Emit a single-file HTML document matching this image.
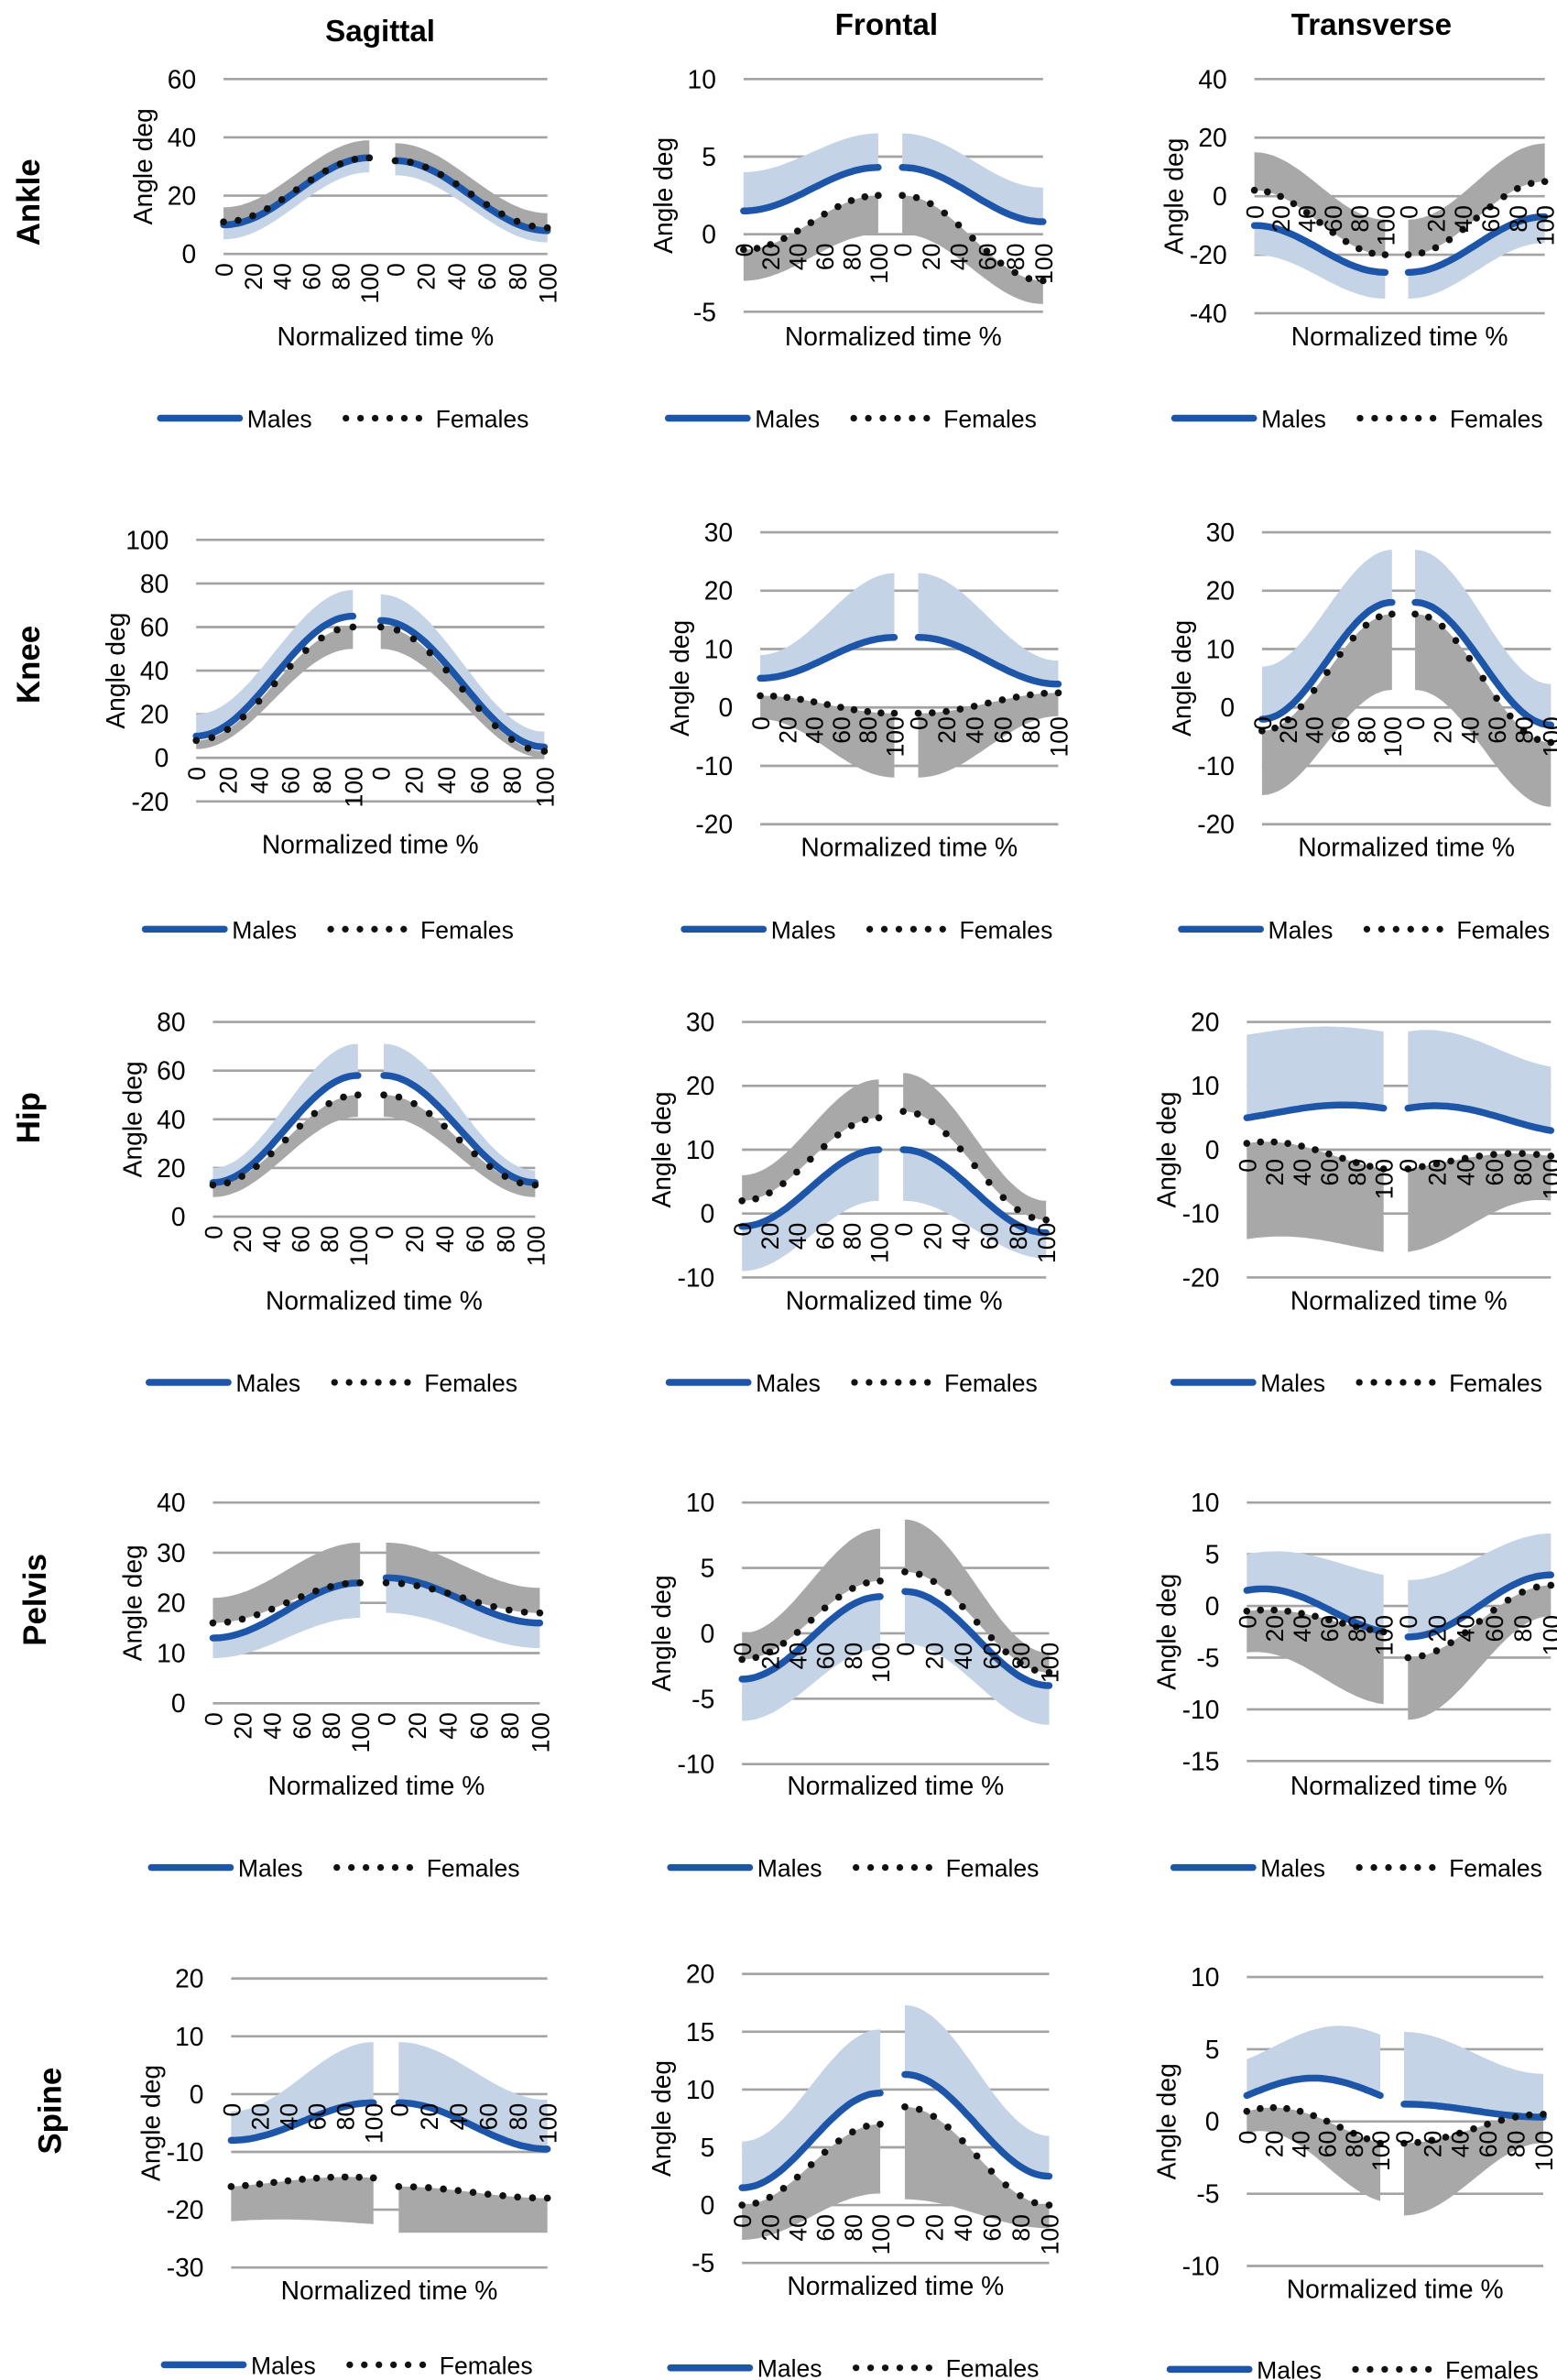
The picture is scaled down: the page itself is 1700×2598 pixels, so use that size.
<!DOCTYPE html>
<html><head><meta charset="utf-8"><style>
html,body{margin:0;padding:0;background:#fff;}
svg{display:block;}
text{font-family:"Liberation Sans",sans-serif;fill:#000;}
</style></head><body>
<svg id="s" width="1700" height="2598" viewBox="0 0 1024 1565" xmlns="http://www.w3.org/2000/svg">
<rect width="1024" height="1565" fill="#fff"/>
<text x="250" y="27" text-anchor="middle" font-size="20" font-weight="bold">Sagittal</text>
<text x="583" y="23" text-anchor="middle" font-size="20" font-weight="bold">Frontal</text>
<text x="902" y="23" text-anchor="middle" font-size="20" font-weight="bold">Transverse</text>
<text transform="translate(26,133) rotate(-90)" text-anchor="middle" font-size="21" font-weight="bold">Ankle</text>
<text transform="translate(26,437) rotate(-90)" text-anchor="middle" font-size="21" font-weight="bold">Knee</text>
<text transform="translate(26,735) rotate(-90)" text-anchor="middle" font-size="21" font-weight="bold">Hip</text>
<text transform="translate(30,1052) rotate(-90)" text-anchor="middle" font-size="21" font-weight="bold">Pelvis</text>
<text transform="translate(40,1388) rotate(-90)" text-anchor="middle" font-size="21" font-weight="bold">Spine</text>
<g id="g"></g>
</svg>
<script>
var P=[
{L:147,R:360,max:60,min:0,st:20,yT:52,yB:167,xl:221,lg:275,h:[[[10,33,5,5,-1,0],[11,33,5,6,1,0]],[[32,8,5,4,-1,0],[32,9,6,5,1,0]]]},
{L:489,R:686,max:10,min:-5,st:5,yT:52,yB:205,xl:221,lg:275,h:[[[1.5,4.3,2.5,2.2,1,0],[-1,2.5,2,2.5,-1,0]],[[4.3,0.8,2.2,2.2,1,0],[2.5,-3,2.5,1.5,-1,0]]]},
{L:825,R:1016,max:40,min:-40,st:20,yT:52,yB:206,xl:221,lg:275,h:[[[-10,-26,10,9,-1,0],[2,-20,13,12,1,0]],[[-26,-7,9,9,-1,0],[-20,5,12,13,1,0]]]},
{L:129,R:358,max:100,min:-20,st:20,yT:355,yB:527,xl:555,lg:611,h:[[[10,65,10,12,1,0],[8,60,4,10,-1,0]],[[63,5,12,7,1,0],[60,3,10,3,-1,0]]]},
{L:500,R:696,max:30,min:-20,st:10,yT:350,yB:542,xl:557,lg:611,h:[[[5,12,4,11,1,0],[2,-1,4,11,-1,0]],[[12,4,11,4,1,0],[-1,2.5,11,4,-1,0]]]},
{L:830,R:1020,max:30,min:-20,st:10,yT:350,yB:542,xl:557,lg:611,h:[[[-2,18,9,9,1,0],[-4,16,11,13,-1,0]],[[18,-3,9,7,1,0],[16,-6,13,11,-1,0]]]},
{L:140,R:352,max:80,min:0,st:20,yT:672,yB:800,xl:855,lg:909,h:[[[14,58,6,13,1,0],[13,50,5,9,-1,0]],[[58,14,13,5,1,0],[50,13,9,5,-1,0]]]},
{L:488,R:688,max:30,min:-10,st:10,yT:672,yB:840,xl:855,lg:909,h:[[[-2,10,7,8,-1,0],[2,15,4,6,1,0]],[[10,-3,8,4,-1,0],[16,-1,6,3,1,0]]]},
{L:820,R:1020,max:20,min:-20,st:10,yT:672,yB:840,xl:855,lg:909,h:[[[5,6.5,13,12,1,1],[1,-3,15,13,-1,1]],[[6.5,3,12,10,1,1.2],[-3,-1,13,7,-1,1]]]},
{L:140,R:355,max:40,min:0,st:10,yT:988,yB:1120,xl:1174,lg:1228,h:[[[13,24,4,7,-1,0],[16,24,5,8,1,0]],[[25,16,7,5,-1,0],[24,18,8,5,1,0]]]},
{L:488,R:690,max:10,min:-10,st:5,yT:988,yB:1160,xl:1174,lg:1228,h:[[[-3.5,2.8,3.2,4,-1,0],[-2,4,2,4,1,0]],[[3.2,-4,4,3,-1,0],[4.7,-3,4,1.5,1,0]]]},
{L:820,R:1020,max:10,min:-15,st:5,yT:988,yB:1158,xl:1174,lg:1228,h:[[[1.5,-2.5,3.5,5.5,1,0.8],[-0.5,-2.5,4,7,-1,0.5]],[[-3,3,5.5,4,1,0],[-5,2,6,3,-1,0]]]},
{L:152,R:360,max:20,min:-30,st:10,yT:1301,yB:1491,xl:1506,lg:1555,h:[[[-8,-1.5,5,10.5,1,0],[-16,-14.5,6,8,-1,0.5]],[[-1.5,-9.5,10.5,8.5,1,0],[-16,-18,8,6,-1,0]]]},
{L:488,R:690,max:20,min:-5,st:5,yT:1298,yB:1488,xl:1503,lg:1557,h:[[[1.5,9.7,4,5.5,1,0],[0,7,3,6,-1,0]],[[11.3,2.5,6,3.5,1,0],[8.5,0,8,2,-1,0]]]},
{L:820,R:1015,max:10,min:-10,st:5,yT:1300,yB:1490,xl:1505,lg:1558,h:[[[1.8,1.8,2.5,4.2,1,1.2],[0.7,-1.5,1.5,4,-1,0.8]],[[1.2,0.3,5,3,1,0],[-1.5,0.5,5,2,-1,0]]]}
];
var out=[];
function sm(t){return (1-Math.cos(Math.PI*t))/2;}
P.forEach(function(p){
 var W=p.R-p.L;
 function Y(v){return p.yT+(p.max-v)/(p.max-p.min)*(p.yB-p.yT);}
 for(var v=p.max;v>=p.min-1e-9;v-=p.st){
  var y=Y(v);
  out.push('<line x1="'+p.L+'" x2="'+p.R+'" y1="'+y+'" y2="'+y+'" stroke="#a3a3a3" stroke-width="1.6"/>');
  out.push('<text x="'+(p.L-18)+'" y="'+(y+6)+'" text-anchor="end" font-size="17">'+v+'</text>');
 }
 var halves=[[p.L,p.L+0.45*W],[p.L+0.53*W,p.R]];
 var layers={gray:[],blue:[],ml:[],fd:[]};
 p.h.forEach(function(hh,i){
  var x0=halves[i][0],x1=halves[i][1];
  [1,0].forEach(function(k){
   var s=hh[k];var top=[],bot=[],N=40;
   for(var j=0;j<=N;j++){var t=j/N,e=sm(t);
    var m=s[0]+(s[1]-s[0])*e+s[5]*Math.sin(Math.PI*t);
    var w=s[2]+(s[3]-s[2])*e;
    var x=x0+(x1-x0)*t;
    top.push([x,Y(m)]);bot.push([x,Y(m+s[4]*w)]);}
   var d='M'+top.map(function(q){return q[0].toFixed(1)+','+q[1].toFixed(1)}).join('L')+'L'+bot.reverse().map(function(q){return q[0].toFixed(1)+','+q[1].toFixed(1)}).join('L')+'Z';
   (k==0?layers.blue:layers.gray).push('<path d="'+d+'" fill="'+(k==0?'#c5d3e6':'#a8a8a8')+'"/>');
   if(k==0){layers.ml.push('<path d="M'+top.map(function(q){return q[0].toFixed(1)+','+q[1].toFixed(1)}).join('L')+'" fill="none" stroke="#1d55a8" stroke-width="4.5" stroke-linecap="round"/>');}
   else{for(var j=0;j<=10;j++){var t=j/10,e=sm(t);var m=s[0]+(s[1]-s[0])*e+s[5]*Math.sin(Math.PI*t);
     layers.fd.push('<circle cx="'+(x0+(x1-x0)*t).toFixed(1)+'" cy="'+Y(m).toFixed(1)+'" r="2.3" fill="#111"/>');}}
  });
 });
 out=out.concat(layers.gray,layers.blue,layers.ml,layers.fd);
 var y0=Y(0);
 halves.forEach(function(h){for(var j=0;j<=5;j++){var x=h[0]+(h[1]-h[0])*j/5;
  out.push('<text transform="translate('+(x+6).toFixed(1)+','+(y0+6).toFixed(1)+') rotate(-90)" text-anchor="end" font-size="16">'+(j*20)+'</text>');}});
 var mid=(p.yT+p.yB)/2;
 out.push('<text transform="translate('+(p.L-47)+','+mid+') rotate(-90)" text-anchor="middle" font-size="17">Angle deg</text>');
 var cx=(p.L+p.R)/2;
 out.push('<text x="'+cx+'" y="'+(p.xl+6)+'" text-anchor="middle" font-size="17">Normalized time %</text>');
 var c=cx-30;
 out.push('<line x1="'+(c-118)+'" x2="'+(c-66)+'" y1="'+p.lg+'" y2="'+p.lg+'" stroke="#1d55a8" stroke-width="4.5" stroke-linecap="round"/>');
 out.push('<text x="'+(c-61)+'" y="'+(p.lg+6)+'" font-size="16">Males</text>');
 for(var j=0;j<6;j++)out.push('<circle cx="'+(c+4+j*9.6)+'" cy="'+p.lg+'" r="2.2" fill="#111"/>');
 out.push('<text x="'+(c+63)+'" y="'+(p.lg+6)+'" font-size="16">Females</text>');
});
document.getElementById('g').innerHTML=out.join('');
</script>
</body></html>
